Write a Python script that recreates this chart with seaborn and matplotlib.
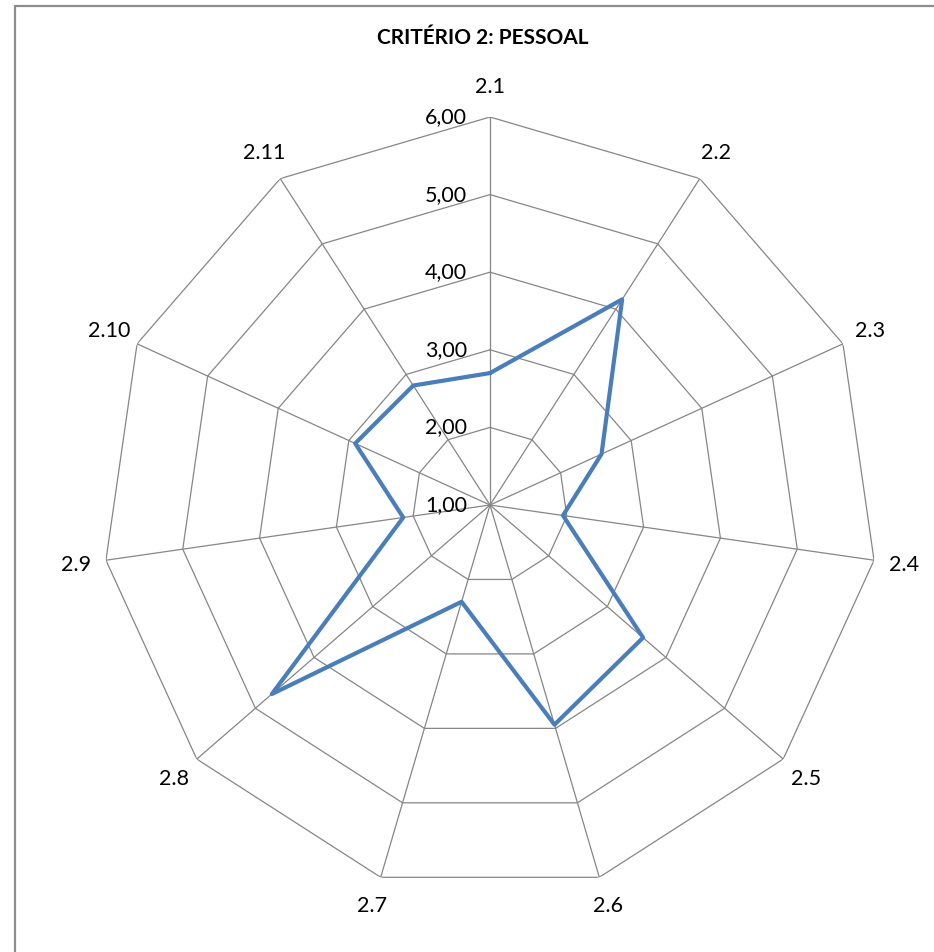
"""
Radar chart - Critério 2: Pessoal
"""

import matplotlib
matplotlib.use("Agg")

import matplotlib.pyplot as plt
import matplotlib.transforms as mtransforms
from matplotlib.lines import Line2D
import numpy as np
import pandas as pd
import seaborn as sns

# =========================================================
# Data
# =========================================================

TITLE = "CRITÉRIO 2: PESSOAL"

CATEGORIES = ["2.1", "2.2", "2.3", "2.4", "2.5", "2.6",
              "2.7", "2.8", "2.9", "2.10", "2.11"]

SCORES = [2.70, 4.15, 2.58, 1.95, 3.61, 3.95,
          2.30, 4.72, 2.13, 2.91, 2.83]

RING_LEVELS = [1, 2, 3, 4, 5, 6]

# =========================================================
# Plot Settings
# =========================================================

sns.set_theme(style="white")
plt.rcParams["font.family"] = ["Lato", "DejaVu Sans"]

LINE_COLOR = "#4A7EBB"
GRID_COLOR = "#868686"
TEXT_COLOR = "#000000"

W, H = 934, 952


def main():

    fig = plt.figure(figsize=(W / 100, H / 100), dpi=100)

    # chart frame: only top and left edges fall inside the picture
    fx, fy = 14.5 / W, 1 - 5.5 / H
    for xs, ys in [([fx, 1.05], [fy, fy]), ([fx, fx], [fy, -0.05])]:
        fig.add_artist(Line2D(xs, ys, transform=fig.transFigure,
                              color="#8c8c8c", linewidth=1.6))

    cx, cy, rad = 490, 505, 388
    ax = fig.add_axes(
        [(cx - rad) / W, (H - cy - rad) / H, 2 * rad / W, 2 * rad / H],
        projection="polar",
    )
    ax.set_theta_zero_location("N")
    ax.set_theta_direction(-1)
    ax.grid(False)
    ax.spines["polar"].set_visible(False)
    ax.set_xticks([])
    ax.set_yticks([])
    ax.patch.set_alpha(0)

    n = len(CATEGORIES)
    theta = np.arange(n) * 2 * np.pi / n
    theta_closed = np.append(theta, 2 * np.pi)

    # polygon rings
    for level in RING_LEVELS[1:]:
        ax.plot(theta_closed, [level] * (n + 1),
                color=GRID_COLOR, linewidth=0.9, zorder=1)

    # spokes
    for t in theta:
        ax.plot([t, t], [RING_LEVELS[0], RING_LEVELS[-1]],
                color=GRID_COLOR, linewidth=0.9, zorder=1)

    # series
    df = pd.DataFrame({
        "theta": theta_closed,
        "score": SCORES + SCORES[:1],
    })
    sns.lineplot(data=df, x="theta", y="score", sort=False,
                 estimator=None, ax=ax,
                 color=LINE_COLOR, linewidth=3.0, zorder=3)
    ax.set_xlabel("")
    ax.set_ylabel("")
    ax.set_rlim(RING_LEVELS[0], RING_LEVELS[-1])

    # category labels
    for t, label in zip(theta, CATEGORIES):
        ax.text(t, 6.39, label, ha="center", va="center",
                fontsize=15.5, color=TEXT_COLOR, clip_on=False)

    # radial value labels
    offset = mtransforms.offset_copy(ax.transData, fig=fig,
                                     x=-23, y=0, units="dots")
    for level in RING_LEVELS:
        ax.text(0, level, f"{level:.2f}".replace(".", ","),
                transform=offset, ha="right", va="center",
                fontsize=15.5, color=TEXT_COLOR, clip_on=False)

    fig.text(483 / W, 1 - 38 / H, TITLE, ha="center", va="center",
             fontsize=15, fontweight="bold", color=TEXT_COLOR)

    fig.savefig("out.png", dpi=100)
    plt.close(fig)


if __name__ == "__main__":
    main()
